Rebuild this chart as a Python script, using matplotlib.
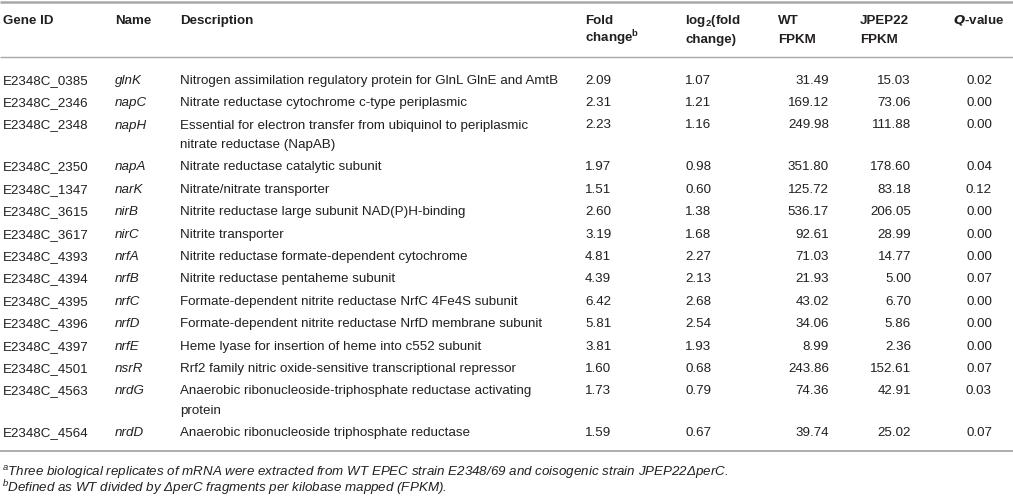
import textwrap
import matplotlib
matplotlib.use("Agg")
import matplotlib.pyplot as plt

# Table data
gene_ids = ['E2348C_0385', 'E2348C_2346', 'E2348C_2348', 'E2348C_2350', 'E2348C_1347',
            'E2348C_3615', 'E2348C_3617', 'E2348C_4393', 'E2348C_4394', 'E2348C_4395',
            'E2348C_4396', 'E2348C_4397', 'E2348C_4501', 'E2348C_4563', 'E2348C_4564']
names = ['glnK', 'napC', 'napH', 'napA', 'narK', 'nirB', 'nirC', 'nrfA', 'nrfB', 'nrfC',
         'nrfD', 'nrfE', 'nsrR', 'nrdG', 'nrdD']
descriptions = [
    'Nitrogen assimilation regulatory protein for GlnL GlnE and AmtB',
    'Nitrate reductase cytochrome c-type periplasmic',
    'Essential for electron transfer from ubiquinol to periplasmic nitrate reductase (NapAB)',
    'Nitrate reductase catalytic subunit',
    'Nitrate/nitrate transporter',
    'Nitrite reductase large subunit NAD(P)H-binding',
    'Nitrite transporter',
    'Nitrite reductase formate-dependent cytochrome',
    'Nitrite reductase pentaheme subunit',
    'Formate-dependent nitrite reductase NrfC 4Fe4S subunit',
    'Formate-dependent nitrite reductase NrfD membrane subunit',
    'Heme lyase for insertion of heme into c552 subunit',
    'Rrf2 family nitric oxide-sensitive transcriptional repressor',
    'Anaerobic ribonucleoside-triphosphate reductase activating protein',
    'Anaerobic ribonucleoside triphosphate reductase',
]
fold_change = [2.09, 2.31, 2.23, 1.97, 1.51, 2.60, 3.19, 4.81, 4.39, 6.42, 5.81, 3.81, 1.60, 1.73, 1.59]
log2_fold = [1.07, 1.21, 1.16, 0.98, 0.60, 1.38, 1.68, 2.27, 2.13, 2.68, 2.54, 1.93, 0.68, 0.79, 0.67]
wt_fpkm = [31.49, 169.12, 249.98, 351.80, 125.72, 536.17, 92.61, 71.03, 21.93, 43.02, 34.06, 8.99,
           243.86, 74.36, 39.74]
jpep_fpkm = [15.03, 73.06, 111.88, 178.60, 83.18, 206.05, 28.99, 14.77, 5.00, 6.70, 5.86, 2.36,
             152.61, 42.91, 25.02]
q_values = [0.02, 0.00, 0.00, 0.04, 0.12, 0.00, 0.00, 0.00, 0.07, 0.00, 0.00, 0.00, 0.07, 0.03, 0.07]

footnote_a = ('$^{a}$Three biological replicates of mRNA were extracted from WT EPEC strain '
              'E2348/69 and coisogenic strain JPEP22\u0394perC.')
footnote_b = '$^{b}$Defined as WT divided by \u0394perC fragments per kilobase mapped (FPKM).'

plt.rcParams['font.family'] = ['Liberation Sans', 'DejaVu Sans']
plt.rcParams['mathtext.fontset'] = 'custom'
plt.rcParams['mathtext.rm'] = 'Liberation Sans'
plt.rcParams['mathtext.it'] = 'Liberation Sans:italic'
plt.rcParams['mathtext.bf'] = 'Liberation Sans:bold'

W, H = 1013, 503
fig = plt.figure(figsize=(W / 100, H / 100), dpi=100)
ax = fig.add_axes([0, 0, 1, 1])
ax.set_xlim(0, W)
ax.set_ylim(H, 0)
ax.axis('off')

txt = '#231f20'
rule = '#a8a8a8'
fs = 9.6
base = 4.7  # baseline offset from row centre

# rules
ax.plot([0, W], [1.5, 1.5], color=rule, lw=1.8, solid_capstyle='butt')
ax.plot([0, W], [57, 57], color=rule, lw=1.0, solid_capstyle='butt')
ax.plot([0, W], [451, 451], color=rule, lw=1.3, solid_capstyle='butt')

# header
hy1, hy2 = 19 + base, 38 + base
hdr = dict(fontsize=fs, color=txt, fontweight='bold', va='baseline', ha='left')
ax.text(3, hy1, 'Gene ID', **hdr)
ax.text(115, hy1, 'Name', **hdr)
ax.text(180, hy1, 'Description', **hdr)
ax.text(585, hy1, 'Fold', **hdr)
ax.text(585, hy2, r'change$^\mathbf{b}$', **hdr)
ax.text(685, hy1, r'log$_\mathbf{2}$(fold', **hdr)
ax.text(685, hy2, 'change)', **hdr)
ax.text(778, hy1, 'WT', **hdr)
ax.text(778, hy2, 'FPKM', **hdr)
ax.text(860, hy1, 'JPEP22', **hdr)
ax.text(860, hy2, 'FPKM', **hdr)
ax.text(953, hy1, r'$\mathbfit{Q}$-value', **hdr)

# body
cell = dict(fontsize=fs, color=txt, va='baseline')
y = 79
pitch, line_gap = 22.4, 19.5
for i in range(len(gene_ids)):
    lines = textwrap.wrap(descriptions[i], width=63, break_on_hyphens=False)
    yb = y + base
    ax.text(3, yb, gene_ids[i], ha='left', **cell)
    ax.text(115, yb, names[i], ha='left', fontstyle='italic', **cell)
    for k, ln in enumerate(lines):
        ax.text(180, yb + k * line_gap, ln, ha='left', **cell)
    ax.text(585, yb, f'{fold_change[i]:.2f}', ha='left', **cell)
    ax.text(685, yb, f'{log2_fold[i]:.2f}', ha='left', **cell)
    ax.text(829, yb, f'{wt_fpkm[i]:.2f}', ha='right', **cell)
    ax.text(911, yb, f'{jpep_fpkm[i]:.2f}', ha='right', **cell)
    ax.text(992, yb, f'{q_values[i]:.2f}', ha='right', **cell)
    y += pitch + (len(lines) - 1) * line_gap

# footnotes
ax.text(2, 471 + base, footnote_a, ha='left', fontstyle='italic', **cell)
ax.text(2, 488 + base, footnote_b, ha='left', fontstyle='italic', **cell)

fig.savefig('out.png', dpi=100)
